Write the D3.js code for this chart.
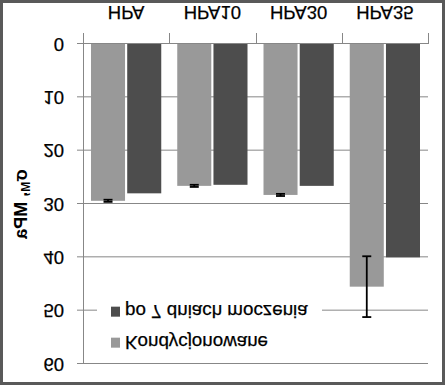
<!DOCTYPE html>
<html>
<head>
<meta charset="utf-8">
<script src="https://cdn.jsdelivr.net/npm/d3@7"></script>
<style>
  body { margin: 0; background: #fff; }
  text { font-family: "Liberation Sans", Arial, sans-serif; fill: #000; }
</style>
</head>
<body>
<svg id="chart"></svg>
<script>

var categories = ["HPA", "HPA10", "HPA30", "HPA35"];
var series = ["Kondycjonowane", "po 7 dniach moczenia"];
var kondValues = [29.4, 26.6, 28.3, 45.5];
var kondErrors = [0.2, 0.2, 0.2, 5.7];
var soakValues = [28.0, 26.4, 26.6, 40.0];
var yTicks = [0, 10, 20, 30, 40, 50, 60];
var colors = ["#999999", "#4d4d4d"];

var W = 445, H = 385;
var margin = { top: 21, right: 17, bottom: 44, left: 83 },
    width = W - margin.left - margin.right,
    height = H - margin.top - margin.bottom;

var rows = categories.map(function (c, i) {
    return { cat: c, values: [kondValues[i], soakValues[i]], err: [kondErrors[i], null] };
});

var svgRoot = d3.select("#chart")
        .attr("width", W)
        .attr("height", H);

// the reference picture is mirrored top to bottom, so the whole chart is flipped
var root = svgRoot.append("g")
        .attr("transform", "translate(0," + H + ") scale(1,-1)");

root.append("rect")
    .attr("x", 1.5).attr("y", 1.5)
    .attr("width", W - 3).attr("height", H - 3)
    .style("fill", "#fff")
    .style("stroke", "#595959")
    .style("stroke-width", 3);

var svg = root.append("g")
        .attr("transform", "translate(" + margin.left + "," + margin.top + ")");

var x0 = d3.scaleBand()
        .domain(categories)
        .range([0, width]);

var x1 = d3.scaleBand()
        .domain(series)
        .range([8, x0.bandwidth() - 8])
        .paddingInner(0.06);

var yScale = d3.scaleLinear()
        .domain([0, 60])
        .range([height, 0]);

// grid lines
svg.append("g")
    .selectAll("line")
    .data(yTicks)
    .enter().append("line")
    .attr("x1", -6).attr("x2", width)
    .attr("y1", function (d) { return yScale(d) + 0.5; })
    .attr("y2", function (d) { return yScale(d) + 0.5; })
    .style("stroke", "#878787");

svg.append("line")
    .attr("x1", 0.5).attr("x2", 0.5)
    .attr("y1", 0).attr("y2", height)
    .style("stroke", "#878787");

// category tick marks
svg.append("g")
    .selectAll("line")
    .data(d3.range(categories.length + 1))
    .enter().append("line")
    .attr("x1", function (i) { return Math.round(i * x0.bandwidth()) + 0.5; })
    .attr("x2", function (i) { return Math.round(i * x0.bandwidth()) + 0.5; })
    .attr("y1", height).attr("y2", height + 11)
    .style("stroke", "#878787");

svg.append("g")
    .selectAll("text")
    .data(yTicks)
    .enter().append("text")
    .attr("x", -19)
    .attr("y", function (d) { return yScale(d) + 6.5; })
    .attr("text-anchor", "end")
    .style("font-size", "18.5px")
    .style("stroke", "#000").style("stroke-width", 0.25)
    .text(function (d) { return d; });

svg.append("g")
    .selectAll("text")
    .data(categories)
    .enter().append("text")
    .attr("x", function (d) { return x0(d) + x0.bandwidth() / 2; })
    .attr("y", height + 38)
    .attr("text-anchor", "middle")
    .style("font-size", "18.5px")
    .style("stroke", "#000").style("stroke-width", 0.25)
    .text(function (d) { return d; });

// bars
var groups = svg.selectAll(".grp")
        .data(rows)
        .enter().append("g")
        .attr("class", "grp")
        .attr("transform", function (d) { return "translate(" + x0(d.cat) + ",0)"; });

groups.selectAll("rect")
    .data(function (d) {
        return d.values.map(function (v, i) { return { s: series[i], v: v, i: i }; });
    })
    .enter().append("rect")
    .attr("x", function (d) { return x1(d.s); })
    .attr("width", x1.bandwidth())
    .attr("y", function (d) { return yScale(d.v); })
    .attr("height", function (d) { return yScale(0) - yScale(d.v); })
    .style("fill", function (d) { return colors[d.i]; });

// error bars on the first series
var eb = groups.append("g")
        .attr("transform", function (d) {
            return "translate(" + (x1(series[0]) + x1.bandwidth() / 2) + ",0)";
        });

eb.append("line")
    .attr("x1", 0).attr("x2", 0)
    .attr("y1", function (d) { return yScale(d.values[0] - d.err[0]); })
    .attr("y2", function (d) { return yScale(d.values[0] + d.err[0]); })
    .style("stroke", "#000").style("stroke-width", 1.8);

eb.selectAll(".cap")
    .data(function (d) { return [d.values[0] - d.err[0], d.values[0] + d.err[0]]; })
    .enter().append("line")
    .attr("class", "cap")
    .attr("x1", -4.5).attr("x2", 4.5)
    .attr("y1", function (v) { return yScale(v); })
    .attr("y2", function (v) { return yScale(v); })
    .style("stroke", "#000").style("stroke-width", 1.8);

// legend
var legend = svg.append("g")
        .attr("transform", "translate(14," + yScale(56) + ")");

legend.append("rect")
    .attr("x", 0).attr("y", -14)
    .attr("width", 225).attr("height", 64)
    .style("fill", "#fff");

var item = legend.selectAll(".item")
        .data(series)
        .enter().append("g")
        .attr("class", "item")
        .attr("transform", function (d, i) { return "translate(0," + (i * 31) + ")"; });

item.append("rect")
    .attr("x", 14).attr("y", -5)
    .attr("width", 9).attr("height", 10)
    .style("fill", function (d, i) { return colors[i]; });

item.append("text")
    .attr("x", 28).attr("y", 6.5)
    .style("font-size", "18.8px")
    .style("stroke", "#000").style("stroke-width", 0.25)
    .text(function (d) { return d; });

// axis title
var title = root.append("text")
        .attr("transform", "translate(27,181) rotate(-90)")
        .attr("text-anchor", "middle")
        .style("font-size", "18px")
        .style("font-weight", "bold");

title.append("tspan").text("σ");
title.append("tspan").attr("dy", 3).style("font-size", "12px").text("M");
title.append("tspan").attr("dy", -3).text(", MPa");

</script>
</body>
</html>
